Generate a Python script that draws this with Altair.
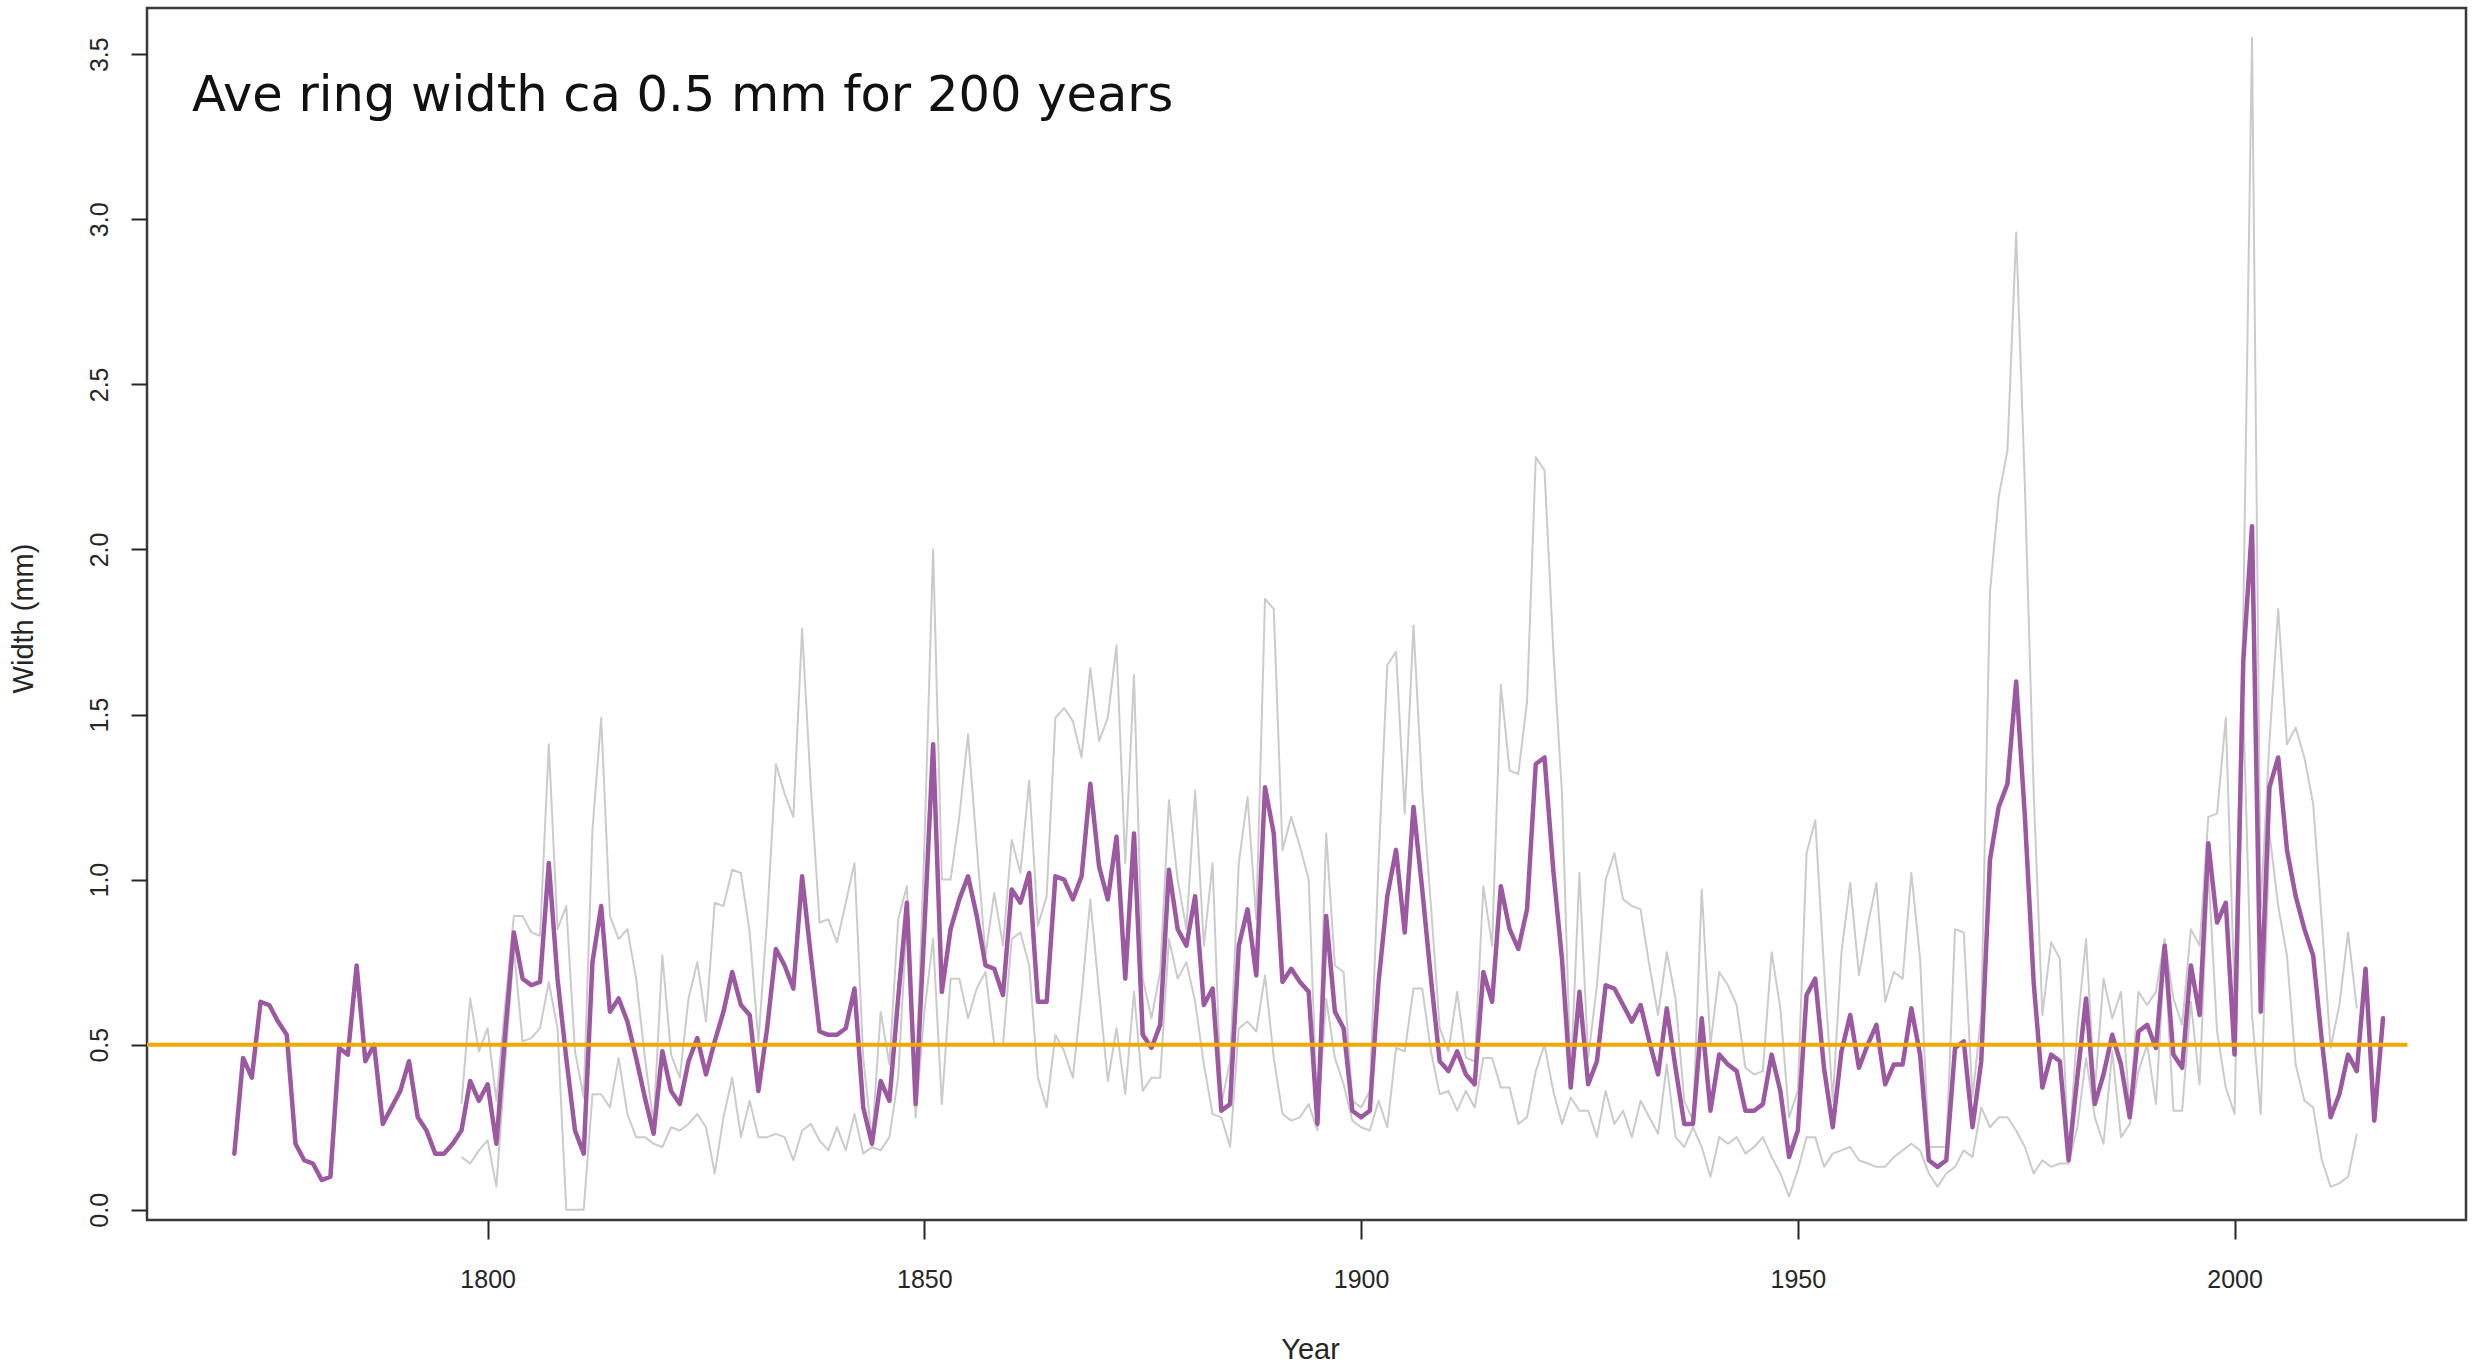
import altair as alt
import pandas as pd

# ---------------- data ----------------
MEAN_START = 1771
mean_width = [
    0.17, 0.46, 0.40, 0.63, 0.62, 0.57, 0.53, 0.20, 0.15,            # 1771-1779
    0.14, 0.09, 0.10, 0.49, 0.47, 0.74, 0.45, 0.50, 0.26, 0.31,      # 1780s
    0.36, 0.45, 0.28, 0.24, 0.17, 0.17, 0.20, 0.24, 0.39, 0.33,      # 1790s
    0.38, 0.20, 0.53, 0.84, 0.70, 0.68, 0.69, 1.05, 0.70, 0.46,      # 1800s
    0.24, 0.17, 0.75, 0.92, 0.60, 0.64, 0.57, 0.46, 0.34, 0.23,      # 1810s
    0.48, 0.36, 0.32, 0.45, 0.52, 0.41, 0.51, 0.60, 0.72, 0.62,      # 1820s
    0.59, 0.36, 0.55, 0.79, 0.74, 0.67, 1.01, 0.77, 0.54, 0.53,      # 1830s
    0.53, 0.55, 0.67, 0.31, 0.20, 0.39, 0.33, 0.64, 0.93, 0.32,      # 1840s
    0.85, 1.41, 0.66, 0.85, 0.94, 1.01, 0.89, 0.74, 0.73, 0.65,      # 1850s
    0.97, 0.93, 1.02, 0.63, 0.63, 1.01, 1.00, 0.94, 1.01, 1.29,      # 1860s
    1.04, 0.94, 1.13, 0.70, 1.14, 0.53, 0.49, 0.56, 1.03, 0.85,      # 1870s
    0.80, 0.95, 0.62, 0.67, 0.30, 0.32, 0.80, 0.91, 0.71, 1.28,      # 1880s
    1.14, 0.69, 0.73, 0.69, 0.66, 0.26, 0.89, 0.60, 0.55, 0.30,      # 1890s
    0.28, 0.30, 0.69, 0.95, 1.09, 0.84, 1.22, 0.97, 0.70, 0.45,      # 1900s
    0.42, 0.48, 0.41, 0.38, 0.72, 0.63, 0.98, 0.85, 0.79, 0.91,      # 1910s
    1.35, 1.37, 1.03, 0.76, 0.37, 0.66, 0.38, 0.45, 0.68, 0.67,      # 1920s
    0.62, 0.57, 0.62, 0.51, 0.41, 0.61, 0.43, 0.26, 0.26, 0.58,      # 1930s
    0.30, 0.47, 0.44, 0.42, 0.30, 0.30, 0.32, 0.47, 0.36, 0.16,      # 1940s
    0.24, 0.65, 0.70, 0.43, 0.25, 0.48, 0.59, 0.43, 0.50, 0.56,      # 1950s
    0.38, 0.44, 0.44, 0.61, 0.47, 0.15, 0.13, 0.15, 0.49, 0.51,      # 1960s
    0.25, 0.45, 1.06, 1.22, 1.29, 1.60, 1.19, 0.69, 0.37, 0.47,      # 1970s
    0.45, 0.15, 0.40, 0.64, 0.32, 0.41, 0.53, 0.44, 0.28, 0.54,      # 1980s
    0.56, 0.49, 0.80, 0.47, 0.43, 0.74, 0.59, 1.11, 0.87, 0.93,      # 1990s
    0.47, 1.66, 2.07, 0.60, 1.28, 1.37, 1.09, 0.95, 0.85, 0.77,      # 2000s
    0.51, 0.28, 0.35, 0.47, 0.42, 0.73, 0.27, 0.58,                  # 2010-2017
]

SERIES_START = 1797
series_a = [
    0.32, 0.64, 0.48,                                                # 1797-1799
    0.55, 0.33, 0.62, 0.89, 0.89, 0.84, 0.83, 1.41, 0.85, 0.92,      # 1800s
    0.48, 0.34, 1.15, 1.49, 0.89, 0.82, 0.85, 0.70, 0.46, 0.26,      # 1810s
    0.77, 0.47, 0.40, 0.64, 0.75, 0.57, 0.93, 0.92, 1.03, 1.02,      # 1820s
    0.84, 0.51, 0.88, 1.35, 1.26, 1.19, 1.76, 1.28, 0.87, 0.88,      # 1830s
    0.81, 0.93, 1.05, 0.46, 0.21, 0.60, 0.44, 0.88, 0.98, 0.36,      # 1840s
    1.10, 2.00, 1.00, 1.00, 1.19, 1.44, 1.10, 0.77, 0.96, 0.80,      # 1850s
    1.12, 1.02, 1.30, 0.86, 0.95, 1.49, 1.52, 1.48, 1.37, 1.64,      # 1860s
    1.42, 1.49, 1.71, 1.05, 1.62, 0.70, 0.58, 0.72, 1.24, 1.00,      # 1870s
    0.85, 1.27, 0.80, 1.05, 0.32, 0.45, 1.05, 1.25, 0.88, 1.85,      # 1880s
    1.82, 1.09, 1.19, 1.10, 1.00, 0.28, 1.14, 0.74, 0.72, 0.33,      # 1890s
    0.31, 0.36, 1.05, 1.65, 1.69, 1.20, 1.77, 1.27, 0.92, 0.55,      # 1900s
    0.48, 0.66, 0.46, 0.45, 0.98, 0.80, 1.59, 1.33, 1.32, 1.54,      # 1910s
    2.28, 2.24, 1.70, 1.26, 0.40, 1.02, 0.46, 0.68, 1.00, 1.08,      # 1920s
    0.94, 0.92, 0.91, 0.74, 0.59, 0.78, 0.64, 0.33, 0.27, 0.97,      # 1930s
    0.50, 0.72, 0.68, 0.62, 0.43, 0.41, 0.42, 0.78, 0.61, 0.28,      # 1940s
    0.36, 1.08, 1.18, 0.73, 0.33, 0.78, 0.99, 0.71, 0.86, 0.99,      # 1950s
    0.63, 0.72, 0.70, 1.02, 0.76, 0.19, 0.19, 0.19, 0.85, 0.84,      # 1960s
    0.34, 0.59, 1.87, 2.16, 2.30, 2.96, 2.19, 1.27, 0.59, 0.81,      # 1970s
    0.76, 0.16, 0.55, 0.82, 0.36, 0.70, 0.58, 0.66, 0.30, 0.66,      # 1980s
    0.62, 0.66, 0.82, 0.64, 0.56, 0.85, 0.80, 1.19, 1.20, 1.49,      # 1990s
    0.65, 1.80, 3.55, 0.91, 1.42, 1.82, 1.41, 1.46, 1.37, 1.23,      # 2000s
    0.87, 0.49, 0.62, 0.84, 0.61,                                    # 2010-2014
]
series_b = [
    0.16, 0.14, 0.18,                                                # 1797-1799
    0.21, 0.07, 0.44, 0.79, 0.51, 0.52, 0.55, 0.69, 0.55, 0.00,      # 1800s
    0.00, 0.00, 0.35, 0.35, 0.31, 0.46, 0.29, 0.22, 0.22, 0.20,      # 1810s
    0.19, 0.25, 0.24, 0.26, 0.29, 0.25, 0.11, 0.28, 0.40, 0.22,      # 1820s
    0.33, 0.22, 0.22, 0.23, 0.22, 0.15, 0.24, 0.26, 0.21, 0.18,      # 1830s
    0.25, 0.18, 0.29, 0.17, 0.19, 0.18, 0.22, 0.40, 0.88, 0.28,      # 1840s
    0.60, 0.82, 0.32, 0.70, 0.70, 0.58, 0.67, 0.72, 0.50, 0.50,      # 1850s
    0.82, 0.84, 0.74, 0.40, 0.31, 0.53, 0.48, 0.40, 0.65, 0.94,      # 1860s
    0.66, 0.39, 0.55, 0.35, 0.66, 0.36, 0.40, 0.40, 0.82, 0.70,      # 1870s
    0.75, 0.63, 0.44, 0.29, 0.28, 0.19, 0.55, 0.57, 0.54, 0.71,      # 1880s
    0.46, 0.29, 0.27, 0.28, 0.32, 0.24, 0.64, 0.46, 0.38, 0.27,      # 1890s
    0.25, 0.24, 0.33, 0.25, 0.49, 0.48, 0.67, 0.67, 0.48, 0.35,      # 1900s
    0.36, 0.30, 0.36, 0.31, 0.46, 0.46, 0.37, 0.37, 0.26, 0.28,      # 1910s
    0.42, 0.50, 0.36, 0.26, 0.34, 0.30, 0.30, 0.22, 0.36, 0.26,      # 1920s
    0.30, 0.22, 0.33, 0.28, 0.23, 0.44, 0.22, 0.19, 0.25, 0.19,      # 1930s
    0.10, 0.22, 0.20, 0.22, 0.17, 0.19, 0.22, 0.16, 0.11, 0.04,      # 1940s
    0.12, 0.22, 0.22, 0.13, 0.17, 0.18, 0.19, 0.15, 0.14, 0.13,      # 1950s
    0.13, 0.16, 0.18, 0.20, 0.18, 0.11, 0.07, 0.11, 0.13, 0.18,      # 1960s
    0.16, 0.31, 0.25, 0.28, 0.28, 0.24, 0.19, 0.11, 0.15, 0.13,      # 1970s
    0.14, 0.14, 0.25, 0.46, 0.28, 0.20, 0.48, 0.22, 0.26, 0.42,      # 1980s
    0.50, 0.32, 0.78, 0.30, 0.30, 0.63, 0.38, 1.03, 0.54, 0.37,      # 1990s
    0.29, 1.52, 0.59, 0.29, 1.14, 0.92, 0.77, 0.44, 0.33, 0.31,      # 2000s
    0.15, 0.07, 0.08, 0.10, 0.23,                                    # 2010-2014
]

X_TICKS = [1800, 1850, 1900, 1950, 2000]
Y_TICKS = [0.0, 0.5, 1.0, 1.5, 2.0, 2.5, 3.0, 3.5]
REF_LEVEL = 0.5
REF_SPAN = [1761.0, 2019.8]
ANNOTATION = "Ave ring width ca 0.5 mm for 200 years"

# ---------------- tables ----------------
mean_years = list(range(MEAN_START, MEAN_START + len(mean_width)))
series_years = list(range(SERIES_START, SERIES_START + len(series_a)))
assert len(series_a) == len(series_b)

mean_df = pd.DataFrame({"year": mean_years, "value": mean_width})
series_df = pd.concat([
    pd.DataFrame({"year": series_years, "value": series_a, "series": "a"}),
    pd.DataFrame({"year": series_years, "value": series_b, "series": "b"}),
])
ref_df = pd.DataFrame({"year": [REF_SPAN[0]], "year_end": [REF_SPAN[1]], "value": [REF_LEVEL]})

# ---------------- styling ----------------
W, H = 2319, 1212
FONT = "Liberation Sans"
AX = "#262626"

x_scale = alt.Scale(domain=[1761.0, 2026.5], nice=False, zero=False)
y_scale = alt.Scale(domain=[-0.031, 3.64], nice=False, zero=False)

x_axis = alt.Axis(
    values=X_TICKS, format="d", title="Year", domain=False, grid=False,
    tickSize=19, tickWidth=2, tickColor=AX,
    labelFont=FONT, labelFontSize=25, labelColor=AX, labelPadding=48,
    labelBaseline="alphabetic", labelAlign="center", labelFlush=False, labelOverlap=False,
    titleFont=FONT, titleFontSize=29, titleFontWeight="normal", titleColor=AX,
    titleX=1163, titleY=138, titleAlign="center", titleBaseline="alphabetic",
)
y_axis = alt.Axis(
    values=Y_TICKS, format=".1f", title="Width (mm)", domain=False, grid=False,
    tickSize=16, tickWidth=2, tickColor=AX,
    labelFont=FONT, labelFontSize=25, labelColor=AX, labelPadding=24,
    labelAngle=270, labelAlign="center", labelBaseline="alphabetic",
    labelFlush=False, labelOverlap=False,
    titleFont=FONT, titleFontSize=29, titleFontWeight="normal", titleColor=AX,
    titleAngle=270, titleX=-115, titleY=610, titleAlign="center", titleBaseline="alphabetic",
)

X = alt.X("year:Q", scale=x_scale, axis=x_axis)
Y = alt.Y("value:Q", scale=y_scale, axis=y_axis)

gray_lines = alt.Chart(series_df).mark_line(
    color="#cbcbcb", strokeWidth=2, strokeJoin="round"
).encode(x=X, y=Y, detail="series:N")

mean_line = alt.Chart(mean_df).mark_line(
    color="#9c58a0", strokeWidth=4.5, strokeJoin="round", strokeCap="round"
).encode(x=X, y=Y)

ref_line = alt.Chart(ref_df).mark_rule(
    color="#eeaa00", strokeWidth=4
).encode(x=X, x2="year_end:Q", y=Y)

label = alt.Chart(pd.DataFrame({"t": [ANNOTATION]})).mark_text(
    align="left", baseline="alphabetic", font="DejaVu Sans", fontSize=49.5, color="#111"
).encode(x=alt.value(45), y=alt.value(103), text="t:N")

chart = alt.layer(gray_lines, mean_line, ref_line, label).properties(
    width=W, height=H,
    autosize=alt.AutoSizeParams(type="none"),
    padding={"left": 147, "top": 8, "right": 17, "bottom": 148},
    background="white",
).configure_view(stroke="#3a3a3a", strokeWidth=2.5)

chart.save("out.html", embed_options={"renderer": "svg", "actions": False})
